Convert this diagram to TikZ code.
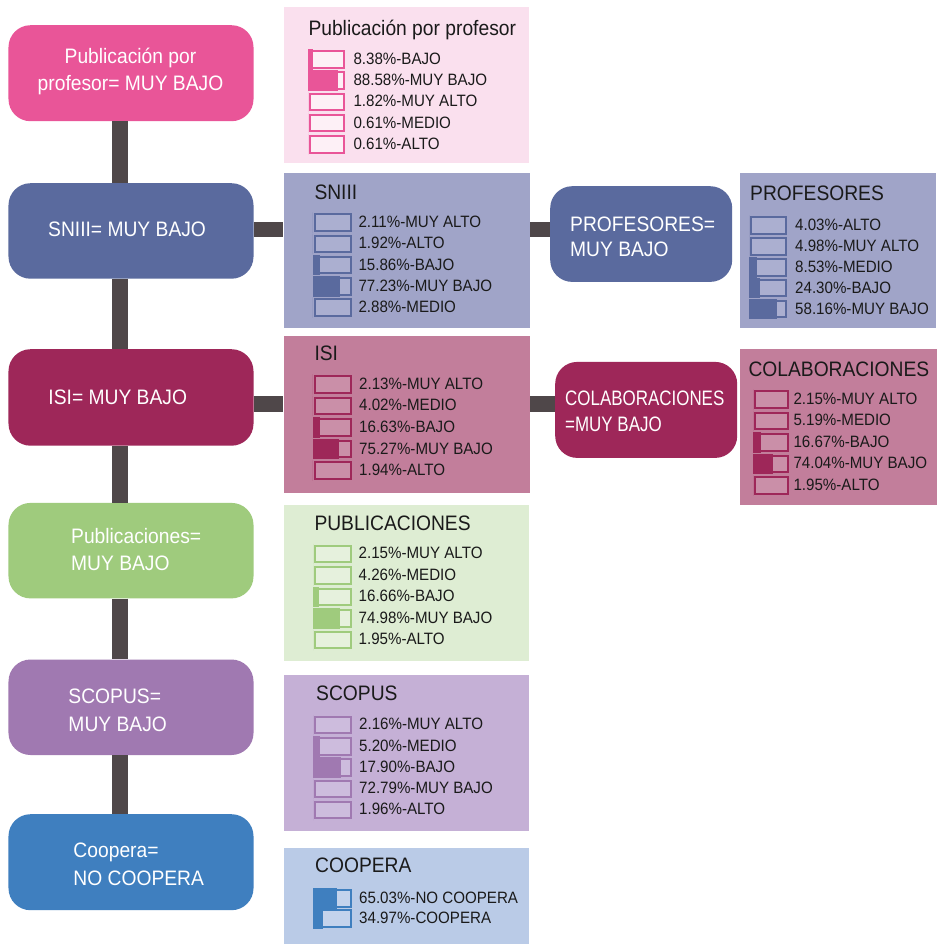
\documentclass[tikz,border=0pt]{standalone}
\usepackage{fontspec}
\setmainfont{Liberation Sans}[FakeStretch=0.92]
\newfontfamily\narrowfont{Liberation Sans}[FakeStretch=0.81]
\usetikzlibrary{calc}
\definecolor{connc}{HTML}{4F4749}
\definecolor{txt}{HTML}{1A1A1A}
\definecolor{pinkbox}{HTML}{E95598}
\definecolor{pinkpanel}{HTML}{FAE0EE}
\definecolor{pinkbar}{HTML}{FDF0F6}
\definecolor{snibox}{HTML}{5A6A9E}
\definecolor{snipanel}{HTML}{A0A4C8}
\definecolor{snibar}{HTML}{ABAFD0}
\definecolor{isibox}{HTML}{9E2759}
\definecolor{isipanel}{HTML}{C27E9B}
\definecolor{isibar}{HTML}{CA8FA8}
\definecolor{grnbox}{HTML}{9FCB7D}
\definecolor{grnpanel}{HTML}{DEEDD3}
\definecolor{grnbar}{HTML}{E6F1DD}
\definecolor{scobox}{HTML}{A079B1}
\definecolor{scopanel}{HTML}{C5B0D6}
\definecolor{scobar}{HTML}{CDBCDD}
\definecolor{coobox}{HTML}{3F7FBF}
\definecolor{coopanel}{HTML}{BACBE7}
\definecolor{coobar}{HTML}{C4D3EC}
\tikzset{
  lbox/.style={rectangle, rounded corners=22bp, anchor=north west, inner sep=0pt, draw=none},
  panel/.style={rectangle, anchor=north west, inner sep=0pt, draw=none},
  conn/.style={line width=15.5bp, draw=connc},
  btext/.style={text=white, font=\fontsize{21}{26}\selectfont, inner sep=0pt, anchor=base west},
  ptitle/.style={text=txt, font=\fontsize{21}{24}\selectfont, inner sep=0pt, anchor=base west},
  rowtext/.style={text=txt, font=\fontsize{16.5}{19}\selectfont, inner sep=0pt, anchor=base west},
  barbox/.style={rectangle, line width=2bp, minimum height=16.5bp, inner sep=0pt, anchor=west},
}
% name, barx, barwidth, textx, y, fraction, dark, light, text
\newcommand{\statrow}[9]{%
  \node[barbox, minimum width={#3bp-2bp}, draw=#7, fill=#8] (#1b) at ({#2+1},{#5+1}) {};
  \fill[#7] ([xshift=-1bp,yshift=-1bp]#1b.south west) rectangle ([xshift={#6*#3bp-1bp},yshift=1bp]#1b.north west);
  \node[rowtext] (#1t) at (#4,{#5+5.9}) {#9};
}
\begin{document}
\begin{tikzpicture}[x=1bp,y=-1bp]
\fill[white] (0,0) rectangle (938,944);
\useasboundingbox (0,0) rectangle (938,944);

% left boxes
\node[lbox, fill=pinkbox, minimum width=245bp, minimum height=96bp] (b1) at (8.3,25) {};
\node[lbox, fill=snibox, minimum width=245bp, minimum height=95.5bp] (b2) at (8.3,183) {};
\node[lbox, fill=isibox, minimum width=245bp, minimum height=96.5bp] (b3) at (8.3,349) {};
\node[lbox, fill=grnbox, minimum width=245bp, minimum height=95.5bp] (b4) at (8.3,502.7) {};
\node[lbox, fill=scobox, minimum width=245bp, minimum height=95.5bp] (b5) at (8.3,659.3) {};
\node[lbox, fill=coobox, minimum width=245bp, minimum height=96bp] (b6) at (8.3,814) {};
\node[lbox, fill=snibox, minimum width=182bp, minimum height=95.7bp] (bp) at (550,186) {};
\node[lbox, fill=isibox, minimum width=182bp, minimum height=96bp] (bc) at (555,361.7) {};

% panels
\node[panel, fill=pinkpanel, minimum width=245bp, minimum height=155.6bp] (p1) at (283.3,6.7) {};
\node[panel, fill=snipanel, minimum width=246.7bp, minimum height=154.6bp] (p2) at (283.3,172.7) {};
\node[panel, fill=snipanel, minimum width=196bp, minimum height=155bp] (pp) at (740,173) {};
\node[panel, fill=isipanel, minimum width=246.7bp, minimum height=157bp] (p3) at (283.3,335.5) {};
\node[panel, fill=isipanel, minimum width=197.5bp, minimum height=156.5bp] (pc) at (739.5,348.5) {};
\node[panel, fill=grnpanel, minimum width=245bp, minimum height=156bp] (p4) at (284,505) {};
\node[panel, fill=scopanel, minimum width=245bp, minimum height=156.4bp] (p5) at (284,674.3) {};
\node[panel, fill=coopanel, minimum width=245bp, minimum height=97bp] (p6) at (284,847.3) {};

% connectors
\coordinate (trunk) at (120,0);
\coordinate (h1) at (0,229.5);
\coordinate (h2) at (0,404);
\draw[conn, line width=16bp] (b1.south -| trunk) -- (b2.north -| trunk);
\draw[conn, line width=16bp] (b2.south -| trunk) -- (b3.north -| trunk);
\draw[conn, line width=16bp] (b3.south -| trunk) -- (b4.north -| trunk);
\draw[conn, line width=16bp] (b4.south -| trunk) -- (b5.north -| trunk);
\draw[conn, line width=16bp] (b5.south -| trunk) -- (b6.north -| trunk);
\draw[conn] (b2.east |- h1) -- (p2.west |- h1);
\draw[conn] (p2.east |- h1) -- (bp.west |- h1);
\draw[conn] (b3.east |- h2) -- (p3.west |- h2);
\draw[conn] (p3.east |- h2) -- (bc.west |- h2);

% box texts
\node[btext, anchor=base] (b1l1) at (130.5,63) {Publicación por};
\node[btext, anchor=base] (b1l2) at (130.5,90.7) {profesor= MUY BAJO};
\node[btext] (b2l1) at (48,236.5) {SNIII= MUY BAJO};
\node[btext] (b3l1) at (48.3,404) {ISI= MUY BAJO};
\node[btext] (b4l1) at (71,543.3) {Publicaciones=};
\node[btext] (b4l2) at (71,570.7) {MUY BAJO};
\node[btext] (b5l1) at (68.3,703.3) {SCOPUS=};
\node[btext] (b5l2) at (68.3,731) {MUY BAJO};
\node[btext] (b6l1) at (73.3,857.7) {Coopera=};
\node[btext] (b6l2) at (73.3,885) {NO COOPERA};
\node[btext] (bpl1) at (570,231.7) {PROFESORES=};
\node[btext] (bpl2) at (570,256.7) {MUY BAJO};
\node[btext, font=\narrowfont\fontsize{21}{26}\selectfont] (bcl1) at (565,405) {COLABORACIONES};
\node[btext, font=\narrowfont\fontsize{21}{26}\selectfont] (bcl2) at (565,431) {=MUY BAJO};

% panel titles
\node[ptitle] (t1) at (308.3,35) {Publicación por profesor};
\node[ptitle] (t2) at (314.3,199.5) {SNIII};
\node[ptitle] (tp) at (750,200.5) {PROFESORES};
\node[ptitle] (t3) at (314.3,360.8) {ISI};
\node[ptitle] (tc) at (748.3,376.5) {COLABORACIONES};
\node[ptitle] (t4) at (314.3,530.5) {PUBLICACIONES};
\node[ptitle] (t5) at (316,700) {SCOPUS};
\node[ptitle] (t6) at (315,872.5) {COOPERA};

% rows: top panel
\statrow{ra1}{308.3}{36}{353.3}{58.5}{0.14}{pinkbox}{pinkbar}{8.38\%-BAJO}
\statrow{ra2}{308.3}{36}{353.3}{79.7}{0.83}{pinkbox}{pinkbar}{88.58\%-MUY BAJO}
\statrow{ra3}{308.3}{36}{353.3}{100.9}{0}{pinkbox}{pinkbar}{1.82\%-MUY ALTO}
\statrow{ra4}{308.3}{36}{353.3}{122.1}{0}{pinkbox}{pinkbar}{0.61\%-MEDIO}
\statrow{ra5}{308.3}{36}{353.3}{143.3}{0}{pinkbox}{pinkbar}{0.61\%-ALTO}
% SNIII
\statrow{rb1}{312.7}{38}{358.3}{221.7}{0}{snibox}{snibar}{2.11\%-MUY ALTO}
\statrow{rb2}{312.7}{38}{358.3}{242.95}{0}{snibox}{snibar}{1.92\%-ALTO}
\statrow{rb3}{312.7}{38}{358.3}{264.2}{0.18}{snibox}{snibar}{15.86\%-BAJO}
\statrow{rb4}{312.7}{38}{358.3}{285.45}{0.72}{snibox}{snibar}{77.23\%-MUY BAJO}
\statrow{rb5}{312.7}{38}{358.3}{306.7}{0}{snibox}{snibar}{2.88\%-MEDIO}
% PROFESORES
\statrow{rp1}{749}{37}{795}{224.5}{0}{snibox}{snibar}{4.03\%-ALTO}
\statrow{rp2}{749}{37}{795}{245.4}{0}{snibox}{snibar}{4.98\%-MUY ALTO}
\statrow{rp3}{749}{37}{795}{266.3}{0.21}{snibox}{snibar}{8.53\%-MEDIO}
\statrow{rp4}{749}{37}{795}{287.2}{0.3}{snibox}{snibar}{24.30\%-BAJO}
\statrow{rp5}{749}{37}{795}{308.1}{0.75}{snibox}{snibar}{58.16\%-MUY BAJO}
% ISI
\statrow{rc1}{312.7}{38}{359}{383.3}{0}{isibox}{isibar}{2.13\%-MUY ALTO}
\statrow{rc2}{312.7}{38}{359}{404.9}{0}{isibox}{isibar}{4.02\%-MEDIO}
\statrow{rc3}{312.7}{38}{359}{426.5}{0.18}{isibox}{isibar}{16.63\%-BAJO}
\statrow{rc4}{312.7}{38}{359}{448.1}{0.7}{isibox}{isibar}{75.27\%-MUY BAJO}
\statrow{rc5}{312.7}{38}{359}{469.7}{0}{isibox}{isibar}{1.94\%-ALTO}
% COLABORACIONES
\statrow{rq1}{753.3}{35}{793.3}{398.5}{0}{isibox}{isibar}{2.15\%-MUY ALTO}
\statrow{rq2}{753.3}{35}{793.3}{420}{0}{isibox}{isibar}{5.19\%-MEDIO}
\statrow{rq3}{753.3}{35}{793.3}{441.5}{0.21}{isibox}{isibar}{16.67\%-BAJO}
\statrow{rq4}{753.3}{35}{793.3}{463}{0.57}{isibox}{isibar}{74.04\%-MUY BAJO}
\statrow{rq5}{753.3}{35}{793.3}{484.5}{0}{isibox}{isibar}{1.95\%-ALTO}
% PUBLICACIONES
\statrow{rd1}{313}{38}{358.5}{553}{0}{grnbox}{grnbar}{2.15\%-MUY ALTO}
\statrow{rd2}{313}{38}{358.5}{574.5}{0}{grnbox}{grnbar}{4.26\%-MEDIO}
\statrow{rd3}{313}{38}{358.5}{596}{0.16}{grnbox}{grnbar}{16.66\%-BAJO}
\statrow{rd4}{313}{38}{358.5}{617.5}{0.72}{grnbox}{grnbar}{74.98\%-MUY BAJO}
\statrow{rd5}{313}{38}{358.5}{639}{0}{grnbox}{grnbar}{1.95\%-ALTO}
% SCOPUS
\statrow{re1}{313.3}{38}{359}{724}{0}{scobox}{scobar}{2.16\%-MUY ALTO}
\statrow{re2}{313.3}{38}{359}{745.25}{0.18}{scobox}{scobar}{5.20\%-MEDIO}
\statrow{re3}{313.3}{38}{359}{766.5}{0.73}{scobox}{scobar}{17.90\%-BAJO}
\statrow{re4}{313.3}{38}{359}{787.75}{0}{scobox}{scobar}{72.79\%-MUY BAJO}
\statrow{re5}{313.3}{38}{359}{809}{0}{scobox}{scobar}{1.96\%-ALTO}
% COOPERA
\statrow{rf1}{313.3}{38}{359}{897.5}{0.63}{coobox}{coobar}{65.03\%-NO COOPERA}
\statrow{rf2}{313.3}{38}{359}{917.5}{0.25}{coobox}{coobar}{34.97\%-COOPERA}
\end{tikzpicture}
\end{document}
